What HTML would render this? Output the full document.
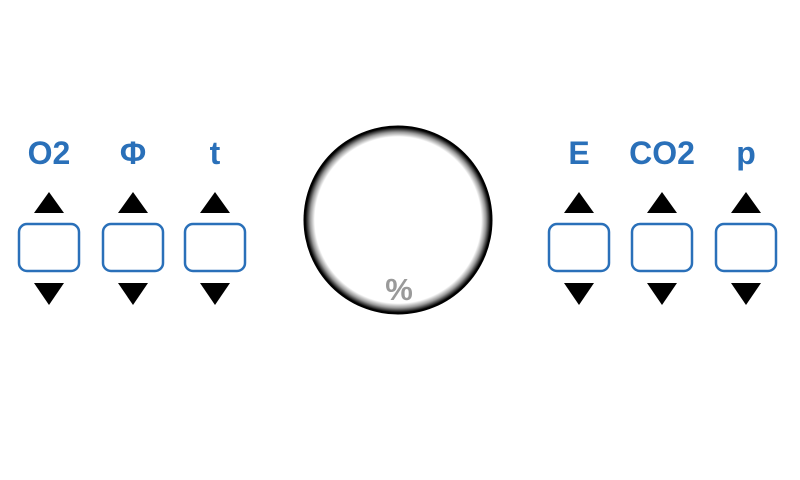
<!DOCTYPE html>
<html><head><meta charset="utf-8"><style>
html,body{margin:0;padding:0;background:#fff;}
svg{display:block;}
text{font-family:"Liberation Sans","DejaVu Sans",sans-serif;}
</style></head><body>
<svg width="800" height="480" viewBox="0 0 800 480">
<defs>
<radialGradient id="ring" cx="0.5" cy="0.5" r="0.5">
<stop offset="0.88" stop-color="#ffffff"/>
<stop offset="0.93" stop-color="#999999"/>
<stop offset="0.98" stop-color="#000000"/>
<stop offset="1" stop-color="#000000"/>
</radialGradient>
</defs>
<g>
<circle cx="398" cy="220" r="94.5" fill="url(#ring)"/>
<text x="399" y="300" text-anchor="middle" font-size="31" font-weight="bold" fill="#9a9a9a">%</text>
</g>
</svg>
<script>
const labels=['O2','Φ','t','E','CO2','p'];
const centers=[49,133,215,579,662,746];
const svg=document.querySelector('svg');
const NS='http://www.w3.org/2000/svg';
labels.forEach((l,i)=>{
 const cx=centers[i];
 const g=document.createElementNS(NS,'g');
 
 
 const t=document.createElementNS(NS,'text');
 t.setAttribute('x',cx);t.setAttribute('y',164);t.setAttribute('text-anchor','middle');
 t.setAttribute('font-size','32');t.setAttribute('font-weight','bold');t.setAttribute('fill','#2a70b9');
 t.textContent=l;
 
 
 g.appendChild(t);
 const up=document.createElementNS(NS,'polygon');
 up.setAttribute('points',`${cx-15},213 ${cx+15},213 ${cx},192`);
 up.setAttribute('fill','#000');
 
 
 g.appendChild(up);
 const r=document.createElementNS(NS,'rect');
 r.setAttribute('x',cx-30);r.setAttribute('y',224);r.setAttribute('width',60);r.setAttribute('height',47);
 r.setAttribute('rx',8);r.setAttribute('fill','#fff');r.setAttribute('stroke','#2a70b9');r.setAttribute('stroke-width','2.5');
 
 
 g.appendChild(r);
 const dn=document.createElementNS(NS,'polygon');
 dn.setAttribute('points',`${cx-15},283 ${cx+15},283 ${cx},305`);
 dn.setAttribute('fill','#000');
 
 
 g.appendChild(dn);
 svg.appendChild(g);
});
</script>
</body></html>
